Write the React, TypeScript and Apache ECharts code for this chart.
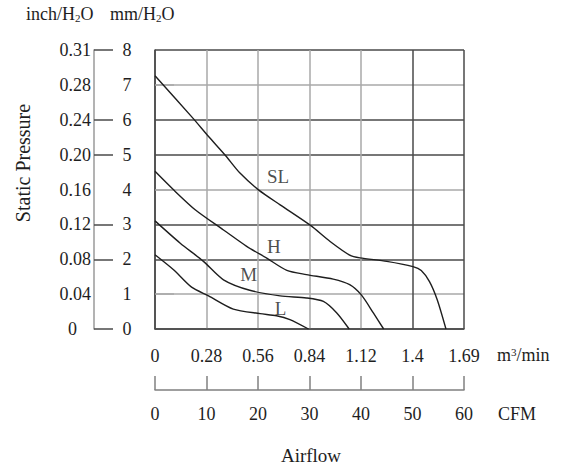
import React, { useEffect, useRef } from "react";
import * as echarts from "echarts";

// Airflow in CFM, static pressure in mm H2O
const cfmTicks = ["0", "10", "20", "30", "40", "50", "60"];
const m3Ticks = ["0", "0.28", "0.56", "0.84", "1.12", "1.4", "1.69"];
const mmTicks = ["0", "1", "2", "3", "4", "5", "6", "7", "8"];
const inchTicks = ["0", "0.04", "0.08", "0.12", "0.16", "0.20", "0.24", "0.28", "0.31"];

const curveSL: [number, number][] = [
  [0, 7.26], [7.4, 6.04], [10.4, 5.52], [13.6, 4.99], [16.5, 4.47], [20.1, 3.99],
  [24.3, 3.56], [30.2, 2.97], [34.0, 2.51], [37.8, 2.12], [39.8, 2.04], [45.0, 1.94],
  [50.1, 1.79], [51.7, 1.68], [53.3, 1.36], [54.8, 0.84], [56.5, 0],
];
const curveH: [number, number][] = [
  [0, 4.52], [3.6, 3.99], [7.8, 3.42], [13.3, 2.84], [17.8, 2.37], [21.7, 2.03],
  [25.6, 1.68], [29.4, 1.56], [34.6, 1.43], [37.8, 1.27], [40.1, 0.97], [42.4, 0.46], [44.4, 0],
];
const curveM: [number, number][] = [
  [0, 3.1], [4.9, 2.46], [9.4, 1.94], [13.3, 1.41], [18.4, 1.11], [24.3, 0.95],
  [29.4, 0.89], [32.7, 0.79], [35.3, 0.46], [37.7, 0],
];
const curveL: [number, number][] = [
  [0, 2.13], [3.6, 1.7], [7.1, 1.2], [10.4, 0.95], [15.2, 0.57], [20.4, 0.44],
  [23.6, 0.38], [26.2, 0.27], [29.8, 0],
];
const curveNames = ["SL", "H", "M", "L"];
const curveLabelPos: [number, number][] = [[23.9, 4.36], [23.1, 2.36], [18.2, 1.56], [24.4, 0.58]];

const FONT = "'Liberation Serif', 'DejaVu Serif', serif";
const DARK = "#4a4a4a";
const LIGHT = "#a8a8a8";
const INK = "#1e1e1e";

export default function App() {
  const ref = useRef<HTMLDivElement>(null);
  useEffect(() => {
    if (!ref.current) return;
    const chart = echarts.init(ref.current, undefined, { renderer: "svg" });
    const lineSeries = [curveSL, curveH, curveM, curveL].map((d, i) => ({
      type: "line",
      name: curveNames[i],
      data: d,
      smooth: 0.25,
      symbol: "none",
      lineStyle: { color: INK, width: 1.4 },
      xAxisIndex: 0,
      yAxisIndex: 0,
      z: 5,
    }));
    chart.setOption({
      animation: false,
      backgroundColor: "#ffffff",
      grid: { left: 155, top: 50, width: 309, height: 279 },
      xAxis: [
        {
          type: "value", min: 0, max: 60, interval: 10, position: "bottom",
          axisLine: { show: true, onZero: false, lineStyle: { color: DARK, width: 1.5 } },
          axisTick: { show: false },
          axisLabel: {
            margin: 18, fontSize: 18, fontFamily: FONT, color: INK,
            formatter: (v: number) => m3Ticks[Math.round(v / 10)] ?? "",
          },
          splitLine: {
            show: true,
            lineStyle: { color: [DARK, LIGHT, LIGHT, LIGHT, LIGHT, DARK, DARK], width: 1.5 },
          },
        },
        {
          type: "value", min: 0, max: 60, interval: 10, position: "bottom", offset: 61,
          axisLine: { show: true, onZero: false, lineStyle: { color: "#808080", width: 1.5 } },
          axisTick: { show: true, inside: true, length: 14, lineStyle: { color: "#808080", width: 1.5 } },
          axisLabel: {
            margin: 15, fontSize: 18, fontFamily: FONT, color: INK,
            formatter: (v: number) => cfmTicks[Math.round(v / 10)] ?? "",
          },
          splitLine: { show: false },
        },
      ],
      yAxis: [
        {
          type: "value", min: 0, max: 8, interval: 1, position: "left",
          axisLine: { show: true, onZero: false, lineStyle: { color: DARK, width: 1.5 } },
          axisTick: { show: false },
          axisLabel: {
            margin: 28, align: "center", fontSize: 18, fontFamily: FONT, color: INK,
            formatter: (v: number) => mmTicks[Math.round(v)] ?? "",
          },
          splitLine: {
            show: true,
            lineStyle: { color: [DARK, LIGHT, DARK], width: 1.5 },
          },
        },
        {
          type: "value", min: 0, max: 8, interval: 1, position: "left", offset: 61,
          axisLine: { show: true, onZero: false, lineStyle: { color: "#9a9a9a", width: 1.5 } },
          axisTick: {
            show: true, inside: true, length: 19,
            customValues: [0, 2, 3, 5, 6, 8],
            lineStyle: { color: DARK, width: 1.5 },
          },
          axisLabel: {
            margin: 3, fontSize: 18, fontFamily: FONT, color: INK,
            formatter: (v: number) => {
              const t = inchTicks[Math.round(v)] ?? "";
              return v === 0 ? `{z|${t}}` : t;
            },
            rich: { z: { fontSize: 18, fontFamily: FONT, color: INK, padding: [0, 14, 0, 0] } },
          },
          splitLine: { show: false },
        },
        {
          type: "value", min: 0, max: 8, interval: 1, position: "left", offset: 61,
          axisLine: { show: false },
          axisTick: {
            show: true, inside: true, length: 19,
            customValues: [1, 4, 7],
            lineStyle: { color: LIGHT, width: 1.5 },
          },
          axisLabel: { show: false },
          splitLine: { show: false },
        },
      ],
      series: [
        ...lineSeries,
        {
          type: "scatter",
          data: curveLabelPos.map((p, i) => ({ value: p, name: curveNames[i] })),
          symbol: "circle",
          symbolSize: 1,
          itemStyle: { color: "rgba(0,0,0,0)" },
          label: {
            show: true, position: "inside", formatter: (p: any) => p.name,
            fontSize: 19, fontFamily: FONT, color: INK,
          },
          z: 6,
        },
      ],
      graphic: [
        {
          type: "text", left: 26, top: 5,
          style: {
            text: "inch/H{s|2}O", font: `18px ${FONT}`, fill: INK,
            rich: { s: { fontSize: 11, fontFamily: FONT, fill: INK, verticalAlign: "bottom" } },
          },
        },
        {
          type: "text", left: 110, top: 5,
          style: {
            text: "mm/H{s|2}O", font: `18px ${FONT}`, fill: INK,
            rich: { s: { fontSize: 11, fontFamily: FONT, fill: INK, verticalAlign: "bottom" } },
          },
        },
        {
          type: "text", x: 23, y: 163, rotation: Math.PI / 2,
          style: {
            text: "Static Pressure", font: `20px ${FONT}`, fill: INK,
            textAlign: "center", textVerticalAlign: "middle",
          },
        },
        {
          type: "text", left: 497, top: 346,
          style: {
            text: "m{s|3}/min", font: `18px ${FONT}`, fill: INK,
            rich: { s: { fontSize: 11, fontFamily: FONT, fill: INK, verticalAlign: "top" } },
          },
        },
        {
          type: "text", x: 498, y: 414,
          style: { text: "CFM", font: `18px ${FONT}`, fill: INK, textVerticalAlign: "middle" },
        },
        {
          type: "text", x: 311, y: 455,
          style: {
            text: "Airflow", font: `19px ${FONT}`, fill: INK,
            textAlign: "center", textVerticalAlign: "middle",
          },
        },
      ],
    });
    return () => chart.dispose();
  }, []);
  return (
    <div
      ref={ref}
      style={{ position: "fixed", left: 0, top: 0, width: 563, height: 465, background: "#fff" }}
    />
  );
}
